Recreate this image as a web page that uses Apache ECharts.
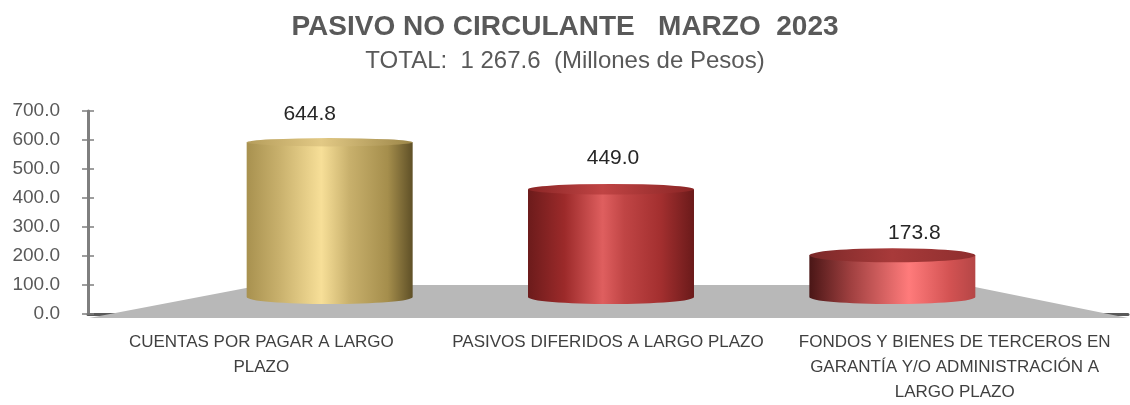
<!DOCTYPE html>
<html>
<head>
<meta charset="utf-8">
<script src="https://cdn.jsdelivr.net/npm/echarts@6/dist/echarts.min.js"></script>
<style>
  html, body { margin: 0; padding: 0; background: #fff; }
  #main { width: 1130px; height: 405px; }
</style>
</head>
<body>
<div id="main"></div>
<script>
const categories = [
  "CUENTAS POR PAGAR A LARGO\nPLAZO",
  "PASIVOS DIFERIDOS A LARGO PLAZO",
  "FONDOS Y BIENES DE TERCEROS EN\nGARANTÍA Y/O ADMINISTRACIÓN A\nLARGO PLAZO"
];
const values = [644.8, 449.0, 173.8];
const yTicks = [0, 100, 200, 300, 400, 500, 600, 700];

const FONT = "'Liberation Sans Narrow', 'Liberation Sans', sans-serif";

// cylinder colour ramps (left -> right)
const bodyStops = [
  [[0, "#a8914f"], [0.2, "#c9b16d"], [0.45, "#f7df98"], [0.62, "#c8b06c"], [0.85, "#a58e4c"], [1, "#5f5027"]],
  [[0, "#6c1b1b"], [0.22, "#9c2a2a"], [0.45, "#df5f5f"], [0.58, "#c04545"], [0.8, "#a32f2f"], [1, "#6a1a1a"]],
  [[0, "#4a1616"], [0.25, "#a04040"], [0.6, "#ff7b7b"], [0.85, "#d25252"], [1, "#b54646"]]
];
const capStops = [
  [[0, "#b59d5b"], [0.45, "#e2c985"], [1, "#9c8648"]],
  [[0, "#8a2525"], [0.45, "#c04444"], [1, "#8a2525"]],
  [[0, "#7a2828"], [0.5, "#a83a3a"], [1, "#8e2e2e"]]
];
const labelOffsets = [[-20, -24], [2, -26], [22, -15]];

function gradient(stops) {
  return new echarts.graphic.LinearGradient(0, 0, 1, 0,
    stops.map(s => ({ offset: s[0], color: s[1] })));
}

function renderCylinder(params, api) {
  const i = api.value(0);
  const v = api.value(1);
  const top = api.coord([i, v]);
  const base = api.coord([i, 0]);
  const w = api.size([1, 0])[0] * 0.59;
  const cx = top[0];
  const rx = w / 2;
  const x0 = cx - rx, x1 = cx + rx;
  const h = base[1] - top[1];
  const ryTop = Math.max(4, 8 - h / 40);
  const ryBot = 7;
  const t = top[1], b = base[1];
  const body = "M " + x0 + " " + t + " L " + x0 + " " + b +
    " A " + rx + " " + ryBot + " 0 0 0 " + x1 + " " + b +
    " L " + x1 + " " + t + " Z";
  const cap = "M " + x0 + " " + t +
    " A " + rx + " " + ryTop + " 0 1 0 " + x1 + " " + t +
    " A " + rx + " " + ryTop + " 0 1 0 " + x0 + " " + t + " Z";
  const off = labelOffsets[i];
  return {
    type: "group",
    children: [
      { type: "path", shape: { pathData: body }, style: { fill: gradient(bodyStops[i]) } },
      { type: "path", shape: { pathData: cap }, style: { fill: gradient(capStops[i]) } },
      {
        type: "text",
        style: {
          text: v.toFixed(1),
          x: cx + off[0],
          y: t - ryTop + off[1],
          align: "center",
          verticalAlign: "middle",
          font: "21px " + FONT,
          fill: "#262626"
        }
      }
    ]
  };
}

const chart = echarts.init(document.getElementById("main"));

chart.setOption({
  animation: false,
  title: {
    text: "PASIVO NO CIRCULANTE   MARZO  2023",
    subtext: "TOTAL:  1 267.6  (Millones de Pesos)",
    left: "center",
    top: 8,
    itemGap: 8,
    textStyle: { fontFamily: FONT, fontSize: 28, fontWeight: "bold", color: "#595959" },
    subtextStyle: { fontFamily: FONT, fontSize: 24, color: "#595959" }
  },
  graphic: [
    {
      type: "polygon",
      z: 1,
      shape: { points: [[89, 318], [262, 285], [965, 285], [1128, 318]] },
      style: { fill: "#b8b8b8" }
    }
  ],
  grid: [
    { left: 88, right: 2, top: 111, bottom: 86 },
    { left: 189, right: 97, top: 129, bottom: 108 }
  ],
  xAxis: [
    {
      type: "category",
      gridIndex: 0,
      data: categories,
      axisLine: { show: true, lineStyle: { color: "#595959", width: 3 } },
      axisTick: { show: false },
      axisLabel: {
        margin: 16,
        interval: 0,
        fontFamily: FONT,
        fontSize: 17,
        lineHeight: 25,
        color: "#404040"
      }
    },
    {
      type: "category",
      gridIndex: 1,
      data: categories,
      show: false
    }
  ],
  yAxis: [
    {
      type: "value",
      gridIndex: 0,
      position: "left",
      min: 0,
      max: 700,
      interval: 100,
      axisLine: { show: true, lineStyle: { color: "#7f7f7f", width: 3 } },
      axisTick: { show: true, length: 6, lineStyle: { color: "#7f7f7f", width: 1.5 } },
      splitLine: { show: false },
      axisLabel: {
        margin: 28,
        fontFamily: FONT,
        fontSize: 19,
        color: "#595959",
        customValues: yTicks,
        formatter: v => v.toFixed(1)
      }
    },
    {
      type: "value",
      gridIndex: 1,
      min: 0,
      max: 700,
      show: false
    },
    {
      type: "value",
      gridIndex: 0,
      position: "left",
      offset: 0,
      min: 0,
      max: 700,
      interval: 100,
      axisLine: { show: false },
      axisTick: { show: true, inside: true, length: 6, lineStyle: { color: "#7f7f7f", width: 1.5 } },
      axisLabel: { show: false },
      splitLine: { show: false }
    }
  ],
  series: [
    {
      type: "custom",
      xAxisIndex: 1,
      yAxisIndex: 1,
      z: 5,
      renderItem: renderCylinder,
      data: values.map((v, i) => [i, v])
    }
  ]
});
</script>
</body>
</html>
